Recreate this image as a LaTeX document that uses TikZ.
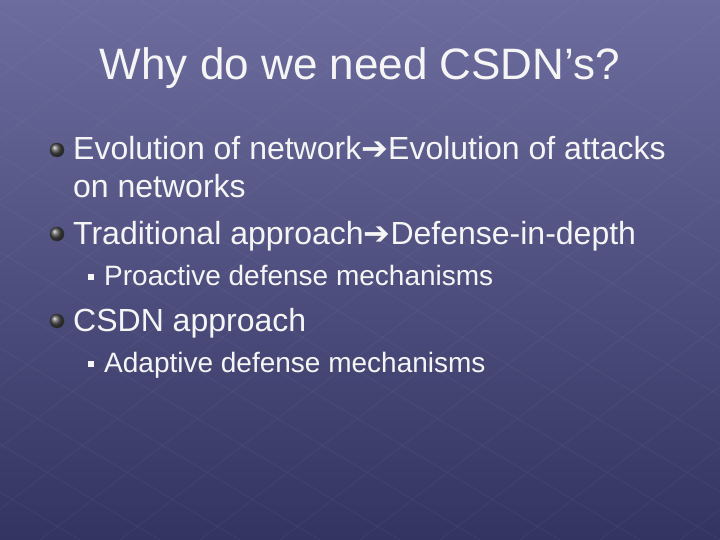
\documentclass[tikz,border=0pt]{standalone}
\usepackage{fontspec}
\setmainfont{Liberation Sans}
\newfontfamily\symf{DejaVu Sans}
\usetikzlibrary{shadings}
\definecolor{bgtop}{RGB}{108,108,158}
\definecolor{bgbot}{RGB}{52,52,98}
\definecolor{txt}{RGB}{245,245,245}
\tikzset{
  lvlone/.style={anchor=base west, text=txt, font=\fontsize{32}{36}\selectfont, inner sep=0pt},
  lvltwo/.style={anchor=base west, text=txt, font=\fontsize{28}{32}\selectfont, inner sep=0pt},
  ball/.style={circle, minimum size=14pt, inner sep=0pt, ball color=gray!60!black, draw=black!80, line width=0.5pt},
  sq/.style={rectangle, minimum size=6pt, inner sep=0pt, fill=txt},
  grid/.style={white, opacity=0.04, line width=1pt}
}
\newcommand{\arr}{{\symf\bfseries\char"2794}}
\begin{document}
\begin{tikzpicture}[x=1pt,y=-1pt]
\useasboundingbox (0,0) rectangle (720,540);
\shade[top color=bgtop, bottom color=bgbot] (0,0) rectangle (720,540);
\begin{scope}
\clip (0,0) rectangle (720,540);
\foreach \i in {-600,-520,...,720} \draw[grid] (\i,540) -- (\i+700,0);
\foreach \i in {0,80,...,1400} \draw[grid] (\i,540) -- (\i-900,0);
\end{scope}
\node[text=txt, font=\fontsize{44}{48}\selectfont] (title) at (360,68) {Why do we need CSDN’s?};
\node[ball] (b1) at (57,150) {};
\node[lvlone] (t1) at (73,160) {Evolution of network\arr Evolution of attacks};
\node[lvlone] (t1b) at (73,197) {on networks};
\node[ball] (b2) at (57,234) {};
\node[lvlone] (t2) at (73,244) {Traditional approach\arr Defense-in-depth};
\node[sq] (s1) at (91,277) {};
\node[lvltwo] (t3) at (104,285) {Proactive defense mechanisms};
\node[ball] (b3) at (57,321) {};
\node[lvlone] (t4) at (73,331) {CSDN approach};
\node[sq] (s2) at (91,364) {};
\node[lvltwo] (t5) at (104,372) {Adaptive defense mechanisms};
\end{tikzpicture}
\end{document}
